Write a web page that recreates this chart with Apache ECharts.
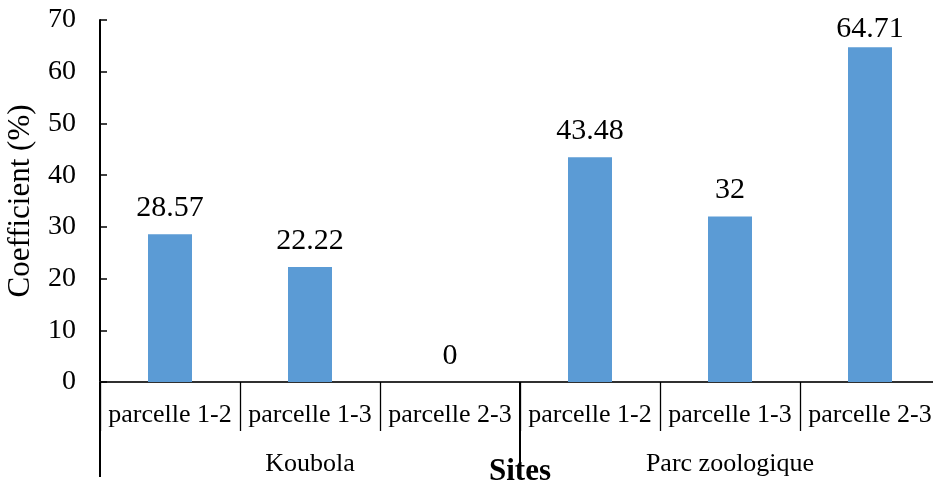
<!DOCTYPE html>
<html>
<head>
<meta charset="utf-8">
<script src="https://cdn.jsdelivr.net/npm/echarts@6/dist/echarts.min.js"></script>
<style>
html,body{margin:0;padding:0;background:#fff;}
#chart{width:933px;height:482px;}
</style>
</head>
<body>
<div id="chart"></div>
<script>
// Parcel pairs, grouped by site
const parcels = ['parcelle 1-2', 'parcelle 1-3', 'parcelle 2-3', 'parcelle 1-2', 'parcelle 1-3', 'parcelle 2-3'];
const sites = ['Koubola', 'Parc zoologique'];
const coefficients = [28.57, 22.22, 0, 43.48, 32, 64.71];
const yTicks = [0, 10, 20, 30, 40, 50, 60, 70];

const serif = '"Liberation Serif", "Times New Roman", serif';
const chart = echarts.init(document.getElementById('chart'));

// labels on bars close to the top of the axis sit a little tighter
const barData = coefficients.map(v => (v > 60 ? { value: v, label: { distance: 3 } } : v));

chart.setOption({
  animation: false,
  backgroundColor: '#ffffff',
  grid: {
    left: 100, top: 20, width: 840, bottom: 100,
    containLabel: false, outerBoundsMode: 'none'
  },
  xAxis: [
    {
      type: 'category',
      data: parcels,
      position: 'bottom',
      axisLine: { show: true, lineStyle: { color: '#303030', width: 2 } },
      axisTick: { show: true, interval: 0, length: 49, lineStyle: { color: '#000', width: 1.3 } },
      axisLabel: { interval: 0, margin: 20, color: '#000', fontFamily: serif, fontSize: 26 },
      name: 'Sites',
      nameLocation: 'middle',
      nameGap: 74,
      nameTextStyle: { color: '#000', fontFamily: serif, fontSize: 31, fontWeight: 'bold' }
    },
    {
      type: 'category',
      data: sites,
      position: 'bottom',
      gridIndex: 0,
      axisLine: { show: false },
      axisTick: { show: true, interval: 0, length: 95, lineStyle: { color: '#000', width: 2 } },
      axisLabel: { interval: 0, margin: 69, color: '#000', fontFamily: serif, fontSize: 26 }
    }
  ],
  yAxis: {
    type: 'value',
    min: 0,
    max: 70,
    interval: 10,
    axisLine: { show: true, lineStyle: { color: '#000', width: 2 } },
    axisTick: { show: true, inside: true, length: 7, lineStyle: { color: '#000', width: 1.5 } },
    axisLabel: {
      margin: 24, color: '#000', fontFamily: serif, fontSize: 28,
      formatter: v => (yTicks.includes(v) ? String(v) : '')
    },
    splitLine: { show: false },
    name: 'Coefficient (%)',
    nameLocation: 'middle',
    nameGap: 64,
    nameTextStyle: { color: '#000', fontFamily: serif, fontSize: 31 }
  },
  series: [
    {
      type: 'bar',
      xAxisIndex: 0,
      data: barData,
      barWidth: 44,
      itemStyle: { color: '#5B9BD5' },
      label: {
        show: true,
        position: 'top',
        distance: 11,
        color: '#000',
        fontFamily: serif,
        fontSize: 30,
        formatter: p => String(p.value)
      }
    }
  ]
});
</script>
</body>
</html>
